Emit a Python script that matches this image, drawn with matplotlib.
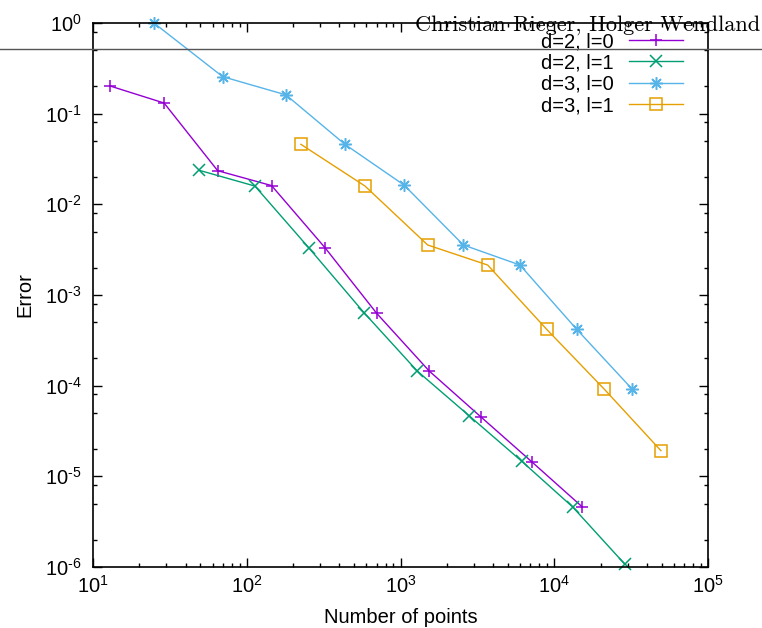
import numpy as np
import matplotlib.pyplot as plt
from matplotlib.lines import Line2D
from matplotlib.ticker import LogLocator, NullFormatter, FuncFormatter

plt.rcParams['font.family'] = ['Liberation Sans', 'DejaVu Sans']
plt.rcParams['mathtext.fontset'] = 'custom'
plt.rcParams['mathtext.rm'] = 'Liberation Sans'
plt.rcParams['mathtext.default'] = 'regular'
plt.rcParams['axes.unicode_minus'] = False

# -----------------------------
# DATA
# -----------------------------
n_d2_l0 = [12.9, 29.0, 64.7, 145, 323, 700, 1538, 3320, 7130, 15240]
err_d2_l0 = [0.202, 0.131, 0.0235, 0.0161, 3.32e-3, 6.28e-4, 1.45e-4, 4.55e-5, 1.45e-5, 4.59e-6]

n_d2_l1 = [49.2, 113, 255, 579, 1285, 2806, 6140, 13180, 28840]
err_d2_l1 = [0.0237, 0.0159, 3.27e-3, 6.38e-4, 1.45e-4, 4.63e-5, 1.47e-5, 4.59e-6, 1.07e-6]

n_d3_l0 = [24.9, 69.7, 180, 435, 1055, 2565, 5985, 14000, 32200]
err_d3_l0 = [1.0, 0.256, 0.161, 0.0459, 0.0163, 3.56e-3, 2.14e-3, 4.18e-4, 9.12e-5]

n_d3_l1 = [225, 588, 1503, 3690, 8930, 21190, 49400]
err_d3_l1 = [0.0459, 0.0159, 3.56e-3, 2.14e-3, 4.18e-4, 9.12e-5, 1.92e-5]

labels = ["d=2, l=0", "d=2, l=1", "d=3, l=0", "d=3, l=1"]
header = "Christian Rieger, Holger Wendland"


def pow10(v, pos):
    # gnuplot style 10^n with a plain hyphen
    e = int(round(np.log10(v)))
    return r'$10^{\text{%d}}$' % e


# -----------------------------
# PLOT
# -----------------------------
fig = plt.figure(figsize=(7.62, 6.28), dpi=100)
ax = fig.add_axes([93/762, 1 - 567/628, (708 - 93)/762, (567 - 23)/628])

ax.plot(n_d2_l0, err_d2_l0, color='#9400d3', lw=1.0, marker='+', ms=9, mew=1.1,
        label=labels[0], clip_on=False)
ax.plot(n_d2_l1, err_d2_l1, color='#009e73', lw=1.0, marker='x', ms=8, mew=1.1,
        label=labels[1], clip_on=False)
ax.plot(n_d3_l0, err_d3_l0, color='#56b4e9', lw=1.0, marker=(8, 2, 0), ms=9, mew=1.1,
        label=labels[2], clip_on=False)
ax.plot(n_d3_l1, err_d3_l1, color='#e69f00', lw=1.0, marker='s', ms=8, mew=1.1,
        mfc='none', label=labels[3], clip_on=False)

ax.set_xscale('log')
ax.set_yscale('log')
ax.set_xlim(10, 1e5)
ax.set_ylim(1e-6, 1)

ax.xaxis.set_major_formatter(FuncFormatter(pow10))
ax.yaxis.set_major_formatter(FuncFormatter(pow10))
ax.yaxis.set_minor_locator(LogLocator(base=10, subs=[2, 5, 8], numticks=20))
ax.yaxis.set_minor_formatter(NullFormatter())
ax.xaxis.set_minor_locator(LogLocator(base=10, subs=np.arange(2, 10), numticks=20))
ax.xaxis.set_minor_formatter(NullFormatter())

ax.tick_params(which='both', direction='in', top=True, right=True, labelsize=14.5, width=1.0)
ax.tick_params(which='major', length=6.5)
ax.tick_params(which='minor', length=3.2)
ax.tick_params(axis='x', pad=6)
ax.tick_params(axis='y', pad=8)
for s in ax.spines.values():
    s.set_linewidth(1.2)

ax.set_xlabel("Number of points", fontsize=14.5, labelpad=8)
ax.set_ylabel("Error", fontsize=14.5, labelpad=8)

leg = ax.legend(loc='upper right', bbox_to_anchor=(683/762, 1 - 32/628),
                bbox_transform=fig.transFigure, frameon=False, markerfirst=False,
                fontsize=14.5, handlelength=2.7, handletextpad=0.75, labelspacing=0.12,
                borderpad=0, borderaxespad=0, numpoints=1)

# page header line + authors
fig.add_artist(Line2D([0, 1], [1 - 48.5/628, 1 - 48.5/628], transform=fig.transFigure,
                      color='#555555', lw=1.0, zorder=10))
fig.text(760/762, 1 - 31/628, header, ha='right', va='baseline', fontsize=16.1,
         family='cmr10', zorder=11)

fig.savefig('out.png', dpi=100)
